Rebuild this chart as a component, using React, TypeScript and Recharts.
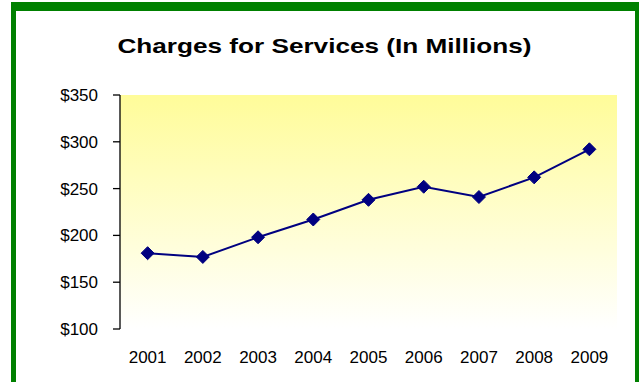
import React from "react";
import { LineChart, Line, XAxis, YAxis, CartesianGrid } from "recharts";

const categories = ["2001", "2002", "2003", "2004", "2005", "2006", "2007", "2008", "2009"];
const charges = [181, 177, 198, 217, 238, 252, 241, 262, 292];
const yTicks = [100, 150, 200, 250, 300, 350];
const title = "Charges for Services (In Millions)";

const data = categories.map((c, i) => ({ idx: i + 1, label: c, value: charges[i] }));
const boundaryTicks = [...categories.map((_, i) => i + 0.5), categories.length + 0.5];
const centerTicks = categories.map((_, i) => i + 1);

const FONT = "'Liberation Sans', Arial, sans-serif";

const Diamond = (props: any) => {
  const { cx, cy } = props;
  if (cx == null || cy == null) return null;
  const r = 6.5;
  return (
    <polygon
      points={`${cx},${cy - r} ${cx + r},${cy} ${cx},${cy + r} ${cx - r},${cy}`}
      fill="#000080"
      stroke="#000080"
    />
  );
};

export default function App() {
  return (
    <div
      style={{
        position: "absolute",
        left: 0,
        top: 0,
        width: 639,
        height: 382,
        background: "#fff",
        overflow: "hidden",
        fontFamily: FONT,
      }}
    >
      <div style={{ position: "absolute", left: 11, top: 2, width: 628, height: 9, background: "#008000" }} />
      <div style={{ position: "absolute", left: 11, top: 2, width: 5, height: 380, background: "#008000" }} />
      <div style={{ position: "absolute", left: 635, top: 2, width: 4, height: 380, background: "#008000" }} />
      <div
        style={{
          position: "absolute",
          left: 10,
          width: 629,
          top: 35,
          textAlign: "center",
          fontSize: 21,
          lineHeight: "21px",
          fontWeight: "bold",
          color: "#000",
          fontFamily: FONT,
          transform: "scaleX(1.245)",
          transformOrigin: "314.5px 50%",
        }}
      >
        {title}
      </div>
      <div style={{ position: "absolute", left: 0, top: 0 }}>
        <LineChart
          width={639}
          height={382}
          data={data}
          margin={{ top: 95, right: 22, bottom: 13, left: 60 }}
        >
          <defs>
            <linearGradient id="bgGrad" x1="0" y1="0" x2="0" y2="1">
              <stop offset="0%" stopColor="#FFFC99" />
              <stop offset="100%" stopColor="#FFFFFF" />
            </linearGradient>
          </defs>
          <CartesianGrid fill="url(#bgGrad)" horizontal={false} vertical={false} />
          <XAxis
            xAxisId="ticks"
            dataKey="idx"
            type="number"
            domain={[0.5, categories.length + 0.5]}
            ticks={boundaryTicks}
            tickFormatter={() => ""}
            height={0}
            tickSize={6}
            axisLine={{ stroke: "#000", strokeWidth: 1.3 }}
            tickLine={{ stroke: "#000", strokeWidth: 1.3 }}
            interval={0}
            allowDataOverflow
          />
          <XAxis
            xAxisId="labels"
            dataKey="idx"
            type="number"
            domain={[0.5, categories.length + 0.5]}
            ticks={centerTicks}
            tickFormatter={(v: number) => categories[v - 1]}
            height={40}
            tickSize={0}
            tickMargin={22}
            axisLine={false}
            tickLine={false}
            interval={0}
            tick={{ fill: "#000", fontSize: 17, fontFamily: FONT }}
          />
          <YAxis
            type="number"
            domain={[100, 350]}
            ticks={yTicks}
            width={60}
            tickSize={7}
            tickMargin={15}
            tickFormatter={(v: number) => `$${v}`}
            axisLine={{ stroke: "#000", strokeWidth: 1.3 }}
            tickLine={{ stroke: "#000", strokeWidth: 1.3 }}
            tick={{ fill: "#000", fontSize: 17, fontFamily: FONT }}
            interval={0}
          />
          <Line
            xAxisId="ticks"
            type="linear"
            dataKey="value"
            stroke="#000080"
            strokeWidth={2}
            dot={<Diamond />}
            activeDot={false}
            isAnimationActive={false}
          />
        </LineChart>
      </div>
    </div>
  );
}
